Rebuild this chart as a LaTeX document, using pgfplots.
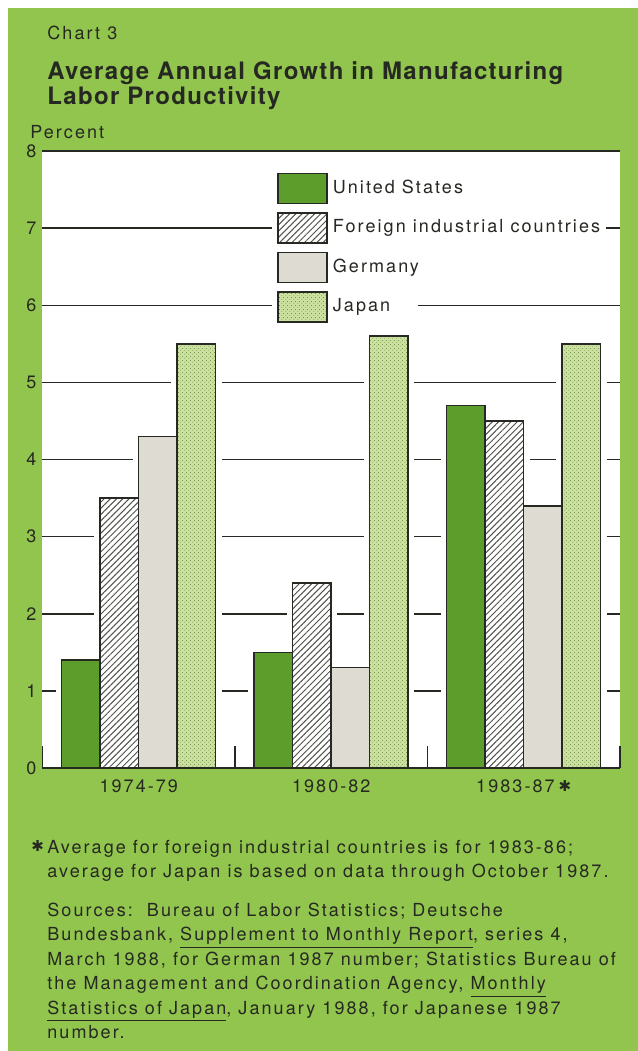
\documentclass[border=0pt]{standalone}
\usepackage{fontspec}
\setmainfont{TeX Gyre Heros}[LetterSpace=11.5]
\newfontfamily\titlefont{TeX Gyre Heros}[LetterSpace=5.5]
\newfontfamily\dejavu{DejaVu Sans}
\usepackage{pgfplots}
\pgfplotsset{compat=1.18}
\usetikzlibrary{patterns,patterns.meta}

\definecolor{bggreen}{RGB}{146,197,78}
\definecolor{usgreen}{RGB}{92,157,44}
\definecolor{gergray}{RGB}{222,219,211}
\definecolor{jpgreen}{RGB}{204,225,160}
\definecolor{jpdot}{RGB}{95,130,60}
\definecolor{ink}{RGB}{38,40,34}
\definecolor{hatch}{RGB}{80,82,76}

\tikzdeclarepattern{
  name=jpdots, type=uncolored,
  bounding box={(0pt,0pt) and (1.8pt,1.8pt)},
  tile size={(1.8pt,1.8pt)},
  code={\pgfpathcircle{\pgfpoint{0.45pt}{0.45pt}}{0.27pt}\pgfpathcircle{\pgfpoint{1.35pt}{1.35pt}}{0.27pt}\pgfusepath{fill}}
}

\newcommand{\bodyfont}{\fontsize{9}{11}\selectfont}
\newcommand{\fnstar}{{\dejavu\fontsize{7.5}{9}\selectfont\raisebox{0.8pt}{✱}}}

\pgfplotstableread{
x us foreign germany japan
0 1.4 3.5 4.3 5.5
1 1.5 2.4 1.3 5.6
2 4.7 4.5 3.4 5.5
}\datatable

\begin{document}
\begin{tikzpicture}
\fill[white] (0,0) rectangle (319pt,-525.5pt);
\fill[bggreen] (4pt,-4pt) rectangle (319pt,-525.5pt);

\node[anchor=base west, inner sep=0, text=ink, font=\bodyfont] at (23.5pt,-19.5pt) {Chart 3};
\node[anchor=base west, inner sep=0, text=ink, font=\titlefont\fontsize{12}{14}\selectfont\bfseries] at (23.5pt,-39.5pt) {Average Annual Growth in Manufacturing};
\node[anchor=base west, inner sep=0, text=ink, font=\titlefont\fontsize{12}{14}\selectfont\bfseries] at (23.5pt,-52pt) {Labor Productivity};
\node[anchor=base west, inner sep=0, text=ink, font=\bodyfont] at (15pt,-69pt) {Percent};

\begin{axis}[
  at={(21.25pt,-384pt)}, anchor=south west,
  scale only axis, width=288.75pt, height=308.5pt,
  xmin=-0.5, xmax=2.5, ymin=0, ymax=8,
  axis background/.style={fill=white},
  axis line style={draw=none},
  major tick length=0pt,
  ytick={0,1,...,8},
  ymajorgrids, grid style={ink, line width=0.75pt},
  xtick={0,1,2},
  xticklabels={1974-79,1980-82,{1983-87\hspace{2pt}\fnstar}},
  tick label style={font=\bodyfont, text=ink},
  /pgf/number format/assume math mode=true,
  x tick label style={yshift=-2.5pt},
  yticklabel style={xshift=0.5pt},
  clip mode=individual,
  legend style={
    at={(0.4061,0.9656)}, anchor=north west,
    draw=none, fill=none, inner sep=0pt,
    row sep=4pt, column sep=0pt,
    nodes={inner xsep=2.5pt, inner ysep=1pt, font=\bodyfont, text=ink},
  },
  legend cell align=left,
  legend image code/.code={
    \draw[#1, line width=0.75pt] (0pt,-7.5pt) rectangle (24.5pt,7.5pt);
  },
]
% white halos that interrupt the grid lines around the bars
\addplot[forget plot, ybar, bar shift=-0.3, bar width=0.2, draw=white, fill=white, line width=6pt] table[x=x,y=us] {\datatable};
\addplot[forget plot, ybar, bar shift=-0.1, bar width=0.2, draw=white, fill=white, line width=6pt] table[x=x,y=foreign] {\datatable};
\addplot[forget plot, ybar, bar shift=0.1, bar width=0.2, draw=white, fill=white, line width=6pt] table[x=x,y=germany] {\datatable};
\addplot[forget plot, ybar, bar shift=0.3, bar width=0.2, draw=white, fill=white, line width=6pt] table[x=x,y=japan] {\datatable};

% white gaps in the grid lines around the legend
\fill[white] (rel axis cs:0.3974,0.8580) rectangle (rel axis cs:0.9758,0.8920);
\fill[white] (rel axis cs:0.3974,0.7330) rectangle (rel axis cs:0.6502,0.7670);

\addplot[ybar, bar shift=-0.3, bar width=0.2, draw=ink, line width=0.75pt, fill=usgreen] table[x=x,y=us] {\datatable};
\addlegendentry{United States}
\addplot[ybar, bar shift=-0.1, bar width=0.2, draw=ink, line width=0.75pt, fill=white,
  postaction={pattern={Lines[angle=45,distance=2.2pt,line width=0.5pt]}, pattern color=hatch}] table[x=x,y=foreign] {\datatable};
\addlegendentry{Foreign industrial countries}
\addplot[ybar, bar shift=0.1, bar width=0.2, draw=ink, line width=0.75pt, fill=gergray] table[x=x,y=germany] {\datatable};
\addlegendentry{Germany}
\addplot[ybar, bar shift=0.3, bar width=0.2, draw=ink, line width=0.75pt, fill=jpgreen,
  postaction={pattern=jpdots, pattern color=jpdot}] table[x=x,y=japan] {\datatable};
\addlegendentry{Japan}

\draw[ink, line width=0.75pt] (axis cs:-0.5,0) -- (axis cs:2.5,0);
\draw[ink, line width=0.75pt] (axis cs:-0.5,0) -- (axis cs:-0.5,0.29);
\draw[ink, line width=0.75pt] (axis cs:0.5,0) -- (axis cs:0.5,0.29);
\draw[ink, line width=0.75pt] (axis cs:1.5,0) -- (axis cs:1.5,0.29);
\draw[ink, line width=0.75pt] (axis cs:2.5,0) -- (axis cs:2.5,0.29);
\end{axis}

\begin{scope}[every node/.style={anchor=base west, inner sep=0, text=ink, font=\bodyfont}]
\node at (15.5pt,-426.75pt) {\fnstar};
\node at (23.5pt,-426.75pt) {Average for foreign industrial countries is for 1983-86;};
\node at (23.5pt,-438.75pt) {average for Japan is based on data through October 1987.};
\node at (23.5pt,-458pt) {Sources:\ \ Bureau of Labor Statistics; Deutsche};
\node at (23.5pt,-470.25pt) {Bundesbank, \underline{Supplement to Monthly Report}, series 4,};
\node at (23.5pt,-482.5pt) {March 1988, for German 1987 number; Statistics Bureau of};
\node at (23.5pt,-494.75pt) {the Management and Coordination Agency, \underline{Monthly}};
\node at (23.5pt,-507pt) {\underline{Statistics of Japan}, January 1988, for Japanese 1987};
\node at (23.5pt,-519.25pt) {number.};
\end{scope}

\pgfresetboundingbox
\path[use as bounding box] (0,0) rectangle (319pt,-525.5pt);
\end{tikzpicture}
\end{document}
